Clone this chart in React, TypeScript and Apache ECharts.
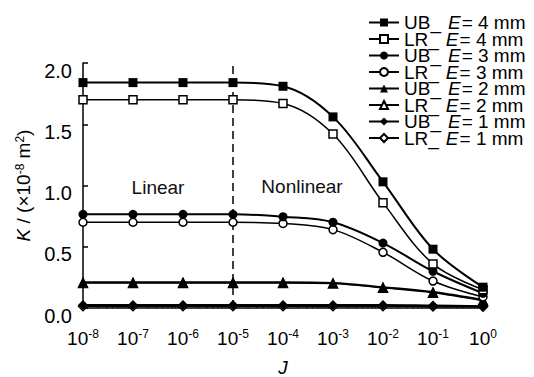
import React, { useEffect, useRef } from "react";
import * as echarts from "echarts";

// ---- data ----
const J_EXPONENTS = [-8, -7, -6, -5, -4, -3, -2, -1, 0];
const Y_TICKS = [0, 0.5, 1.0, 1.5, 2.0];
const MINOR_MULTIPLIERS = [2, 3, 4, 5, 6, 7, 8, 9];
const BOUNDARY_EXPONENT = -5; // linear / nonlinear boundary

const UB_E4 = [1.84, 1.84, 1.84, 1.84, 1.81, 1.56, 1.03, 0.48, 0.17];
const LR_E4 = [1.70, 1.70, 1.70, 1.70, 1.67, 1.42, 0.86, 0.36, 0.15];
const UB_E3 = [0.765, 0.765, 0.765, 0.765, 0.745, 0.70, 0.53, 0.30, 0.12];
const LR_E3 = [0.70, 0.70, 0.70, 0.70, 0.69, 0.64, 0.455, 0.22, 0.09];
const UB_E2 = [0.21, 0.21, 0.21, 0.21, 0.21, 0.205, 0.17, 0.13, 0.065];
const LR_E2 = [0.205, 0.205, 0.205, 0.205, 0.205, 0.20, 0.165, 0.125, 0.06];
const UB_E1 = [0.025, 0.025, 0.025, 0.025, 0.025, 0.025, 0.025, 0.02, 0.015];
const LR_E1 = [0.015, 0.015, 0.015, 0.015, 0.015, 0.015, 0.015, 0.012, 0.01];

const SERIES_PREFIX = ["UB_", "LR_", "UB_", "LR_", "UB_", "LR_", "UB_", "LR_"];
const SERIES_E = [4, 4, 3, 3, 2, 2, 1, 1];
const SERIES_VALUES = [UB_E4, LR_E4, UB_E3, LR_E3, UB_E2, LR_E2, UB_E1, LR_E1];
const SERIES_SYMBOL = ["rect", "rect", "circle", "circle", "triangle", "triangle", "diamond", "diamond"];
const SERIES_FILLED = [true, false, true, false, true, false, true, false];
const SERIES_SIZE = [9, 8, 9, 8, 10, 9, 10, 9];

const FONT = "'Liberation Sans', Arial, Helvetica, sans-serif";

export default function App() {
  const ref = useRef<HTMLDivElement>(null);

  useEffect(() => {
    if (!ref.current) return;
    const chart = echarts.init(ref.current, undefined, { renderer: "svg" });
    const xs = J_EXPONENTS.map((e) => Math.pow(10, e));
    const names = SERIES_PREFIX.map((p, i) => `${p} E= ${SERIES_E[i]} mm`);

    const minorTicks: number[][] = [];
    J_EXPONENTS.slice(0, -1).forEach((e) => {
      MINOR_MULTIPLIERS.forEach((m) => minorTicks.push([m * Math.pow(10, e), 0]));
    });

    const lineSeries: any[] = SERIES_VALUES.map((vals, i) => ({
      name: names[i],
      type: "line",
      data: vals.map((v, k) => [xs[k], v]),
      smooth: 0.35,
      symbol: SERIES_SYMBOL[i],
      symbolSize: SERIES_SIZE[i],
      showAllSymbol: true,
      lineStyle: { color: "#000", width: i % 2 === 0 ? 2 : 1.5 },
      itemStyle: {
        color: SERIES_FILLED[i] ? "#000" : "#fff",
        borderColor: "#000",
        borderWidth: SERIES_FILLED[i] ? 0 : 1.5,
      },
      z: 3 + (8 - i),
    }));

    const option: any = {
      animation: false,
      backgroundColor: "#fff",
      textStyle: { fontFamily: FONT, color: "#000" },
      grid: { left: 83, right: 51, top: 63, bottom: 69, outerBoundsMode: "none" },
      legend: {
        data: names,
        orient: "vertical",
        left: 363,
        top: 8,
        itemWidth: 30,
        itemHeight: 10,
        itemGap: -2.5,
        align: "left",
        formatter: (name: string) => {
          const idx = names.indexOf(name);
          return `{n|${SERIES_PREFIX[idx]}}{e|E}{n|= ${SERIES_E[idx]} mm}`;
        },
        textStyle: {
          fontFamily: FONT,
          color: "#000",
          fontSize: 19,
          rich: {
            n: { fontFamily: FONT, fontSize: 19, color: "#000" },
            e: { fontFamily: FONT, fontSize: 19, fontStyle: "italic", color: "#000", padding: [0, 1, 0, 7] },
          },
        },
      },
      xAxis: {
        type: "log",
        logBase: 10,
        min: Math.pow(10, J_EXPONENTS[0]),
        max: Math.pow(10, J_EXPONENTS[J_EXPONENTS.length - 1]),
        name: "J",
        nameLocation: "middle",
        nameGap: 50,
        nameTextStyle: { fontFamily: FONT, fontSize: 19, fontStyle: "italic", color: "#000" },
        axisLine: { show: true, lineStyle: { color: "#000", width: 1.5 } },
        axisTick: { show: true, inside: true, length: 5, lineStyle: { color: "#000", width: 1.5 } },
        splitLine: { show: false },
        axisLabel: {
          margin: 20,
          color: "#000",
          formatter: (v: number) => `{b|10}{s|${Math.round(Math.log10(v))}}`,
          rich: {
            b: { fontFamily: FONT, fontSize: 19, lineHeight: 20, color: "#000" },
            s: { fontFamily: FONT, fontSize: 12, lineHeight: 12, verticalAlign: "top", color: "#000" },
          },
        },
      },
      yAxis: {
        type: "value",
        min: Y_TICKS[0],
        max: Y_TICKS[Y_TICKS.length - 1],
        interval: Y_TICKS[1] - Y_TICKS[0],
        name: "{i|K} / (×10{s|-8} m{s|2})",
        nameLocation: "middle",
        nameRotate: 90,
        nameGap: 45,
        nameTextStyle: {
          fontFamily: FONT,
          fontSize: 19,
          color: "#000",
          rich: {
            i: { fontFamily: FONT, fontSize: 19, fontStyle: "italic", lineHeight: 20, color: "#000" },
            s: { fontFamily: FONT, fontSize: 12, lineHeight: 12, verticalAlign: "top", color: "#000" },
          },
        },
        axisLine: { show: true, lineStyle: { color: "#000", width: 1.5 } },
        axisTick: { show: true, inside: true, length: 5, lineStyle: { color: "#000", width: 1.5 } },
        splitLine: { show: false },
        axisLabel: {
          margin: 11,
          fontFamily: FONT,
          fontSize: 20,
          lineHeight: 15,
          verticalAlign: "top",
          color: "#000",
          formatter: (v: number) => v.toFixed(1),
        },
      },
      graphic: [
        {
          type: "text",
          x: 158,
          y: 187,
          style: {
            text: "Linear",
            font: `19px ${FONT}`,
            fill: "#111",
            textAlign: "center",
            textVerticalAlign: "middle",
          },
        },
        {
          type: "text",
          x: 302,
          y: 186,
          style: {
            text: "Nonlinear",
            font: `19px ${FONT}`,
            fill: "#111",
            textAlign: "center",
            textVerticalAlign: "middle",
          },
        },
      ],
      series: [
        ...lineSeries,
        {
          name: "boundary",
          type: "line",
          silent: true,
          symbol: "none",
          z: 2,
          data: [
            [Math.pow(10, BOUNDARY_EXPONENT), Y_TICKS[0]],
            [Math.pow(10, BOUNDARY_EXPONENT), Y_TICKS[Y_TICKS.length - 1]],
          ],
          lineStyle: { color: "#000", width: 1.5, type: [8, 5] },
        },
        {
          type: "custom",
          silent: true,
          z: 2,
          data: minorTicks,
          renderItem: (_params: any, api: any) => {
            const p = api.coord([api.value(0), api.value(1)]);
            return {
              type: "line",
              shape: { x1: p[0], y1: p[1], x2: p[0], y2: p[1] - 3 },
              style: { stroke: "#000", lineWidth: 1 },
            };
          },
        },
      ],
    };

    chart.setOption(option);
    return () => chart.dispose();
  }, []);

  return (
    <div
      ref={ref}
      style={{ position: "fixed", left: 0, top: 0, width: 534, height: 377, background: "#fff" }}
    />
  );
}
